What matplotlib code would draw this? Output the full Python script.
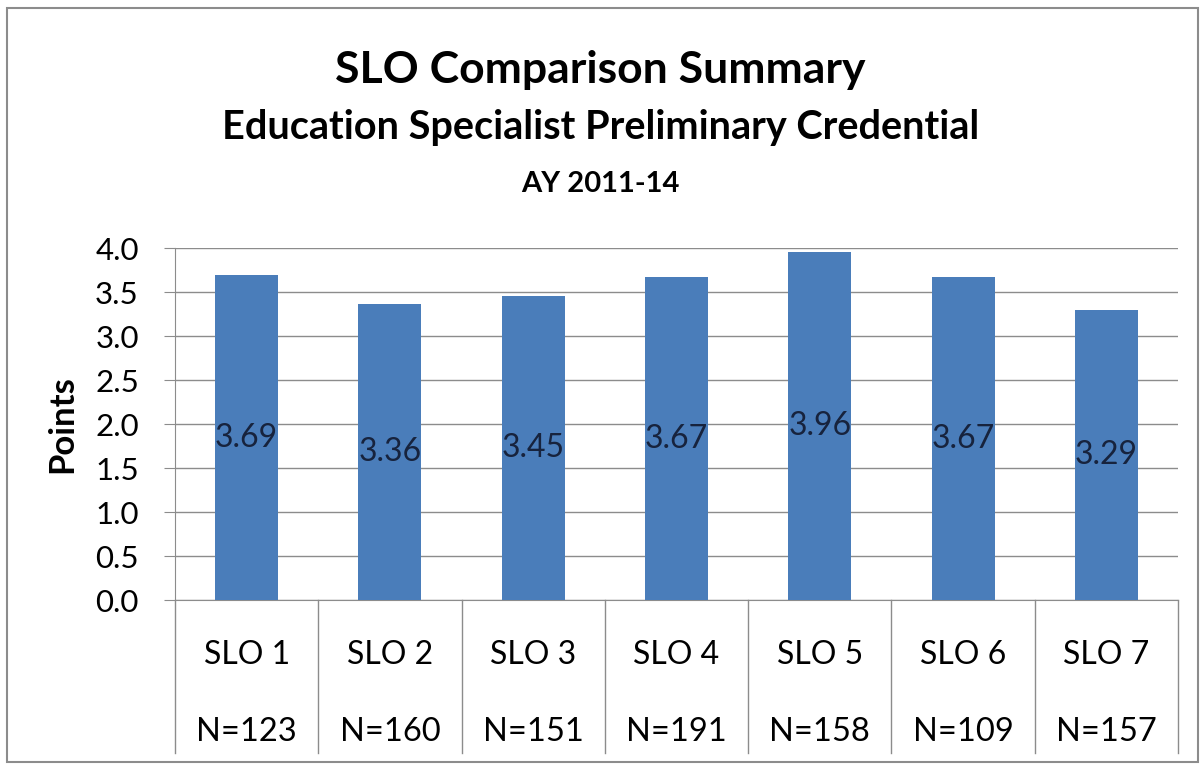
import matplotlib
matplotlib.use('Agg')
import matplotlib.pyplot as plt
from matplotlib.patches import Rectangle

plt.rcParams['font.family'] = ['Lato', 'DejaVu Sans']

categories = ['SLO 1', 'SLO 2', 'SLO 3', 'SLO 4', 'SLO 5', 'SLO 6', 'SLO 7']
n_labels = ['N=123', 'N=160', 'N=151', 'N=191', 'N=158', 'N=109', 'N=157']
values = [3.69, 3.36, 3.45, 3.67, 3.96, 3.67, 3.29]
yticks = [0.0, 0.5, 1.0, 1.5, 2.0, 2.5, 3.0, 3.5, 4.0]

W, H = 1201, 766
fig = plt.figure(figsize=(W / 100, H / 100), dpi=100)
ax = fig.add_axes([175 / W, 166 / H, 1003 / W, 352 / H])

x = list(range(len(categories)))
ax.bar(x, values, width=0.44, color='#4A7DBA', zorder=3)
for xi, v in zip(x, values):
    ax.text(xi, v / 2, f'{v:.2f}', ha='center', va='center', fontsize=23, color='#17233d', zorder=4)

ax.set_xlim(-0.5, len(categories) - 0.5)
ax.set_ylim(0, 4.0)
ax.set_yticks(yticks)
ax.set_yticklabels([f'{t:.1f}' for t in yticks], fontsize=22.5)
ax.yaxis.grid(True, color='#8c8c8c', linewidth=1, zorder=0)
ax.tick_params(axis='y', length=8, color='#8c8c8c', pad=18)
ax.set_xticks([])
for s in ['top', 'right']:
    ax.spines[s].set_visible(False)
ax.spines['left'].set_color('#8c8c8c')
ax.spines['bottom'].set_color('#8c8c8c')
ax.set_ylabel('Points', fontsize=25, fontweight='bold', labelpad=12)

# category table under the axis
tr = ax.get_xaxis_transform()
bottom = -(753 - 600) / 352
for b in [i - 0.5 for i in range(len(categories) + 1)]:
    ax.plot([b, b], [0, bottom], color='#8c8c8c', linewidth=1, transform=tr, clip_on=False)
for xi, c, n in zip(x, categories, n_labels):
    ax.text(xi, -(655 - 600) / 352, c, transform=tr, ha='center', va='center', fontsize=23)
    ax.text(xi, -(732 - 600) / 352, n, transform=tr, ha='center', va='center', fontsize=23.5)

fig.text(0.5, 1 - 70 / H, 'SLO Comparison Summary', ha='center', va='center', fontsize=32, fontweight='bold')
fig.text(0.5, 1 - 128 / H, 'Education Specialist Preliminary Credential', ha='center', va='center', fontsize=28.5, fontweight='bold')
fig.text(0.5, 1 - 184 / H, 'AY 2011-14', ha='center', va='center', fontsize=21, fontweight='bold')

fig.patches.append(Rectangle((7 / W, 4 / H), 1191 / W, 754 / H, transform=fig.transFigure,
                             fill=False, edgecolor='#8c8c8c', linewidth=1.5))

fig.savefig('out.png', dpi=100)
